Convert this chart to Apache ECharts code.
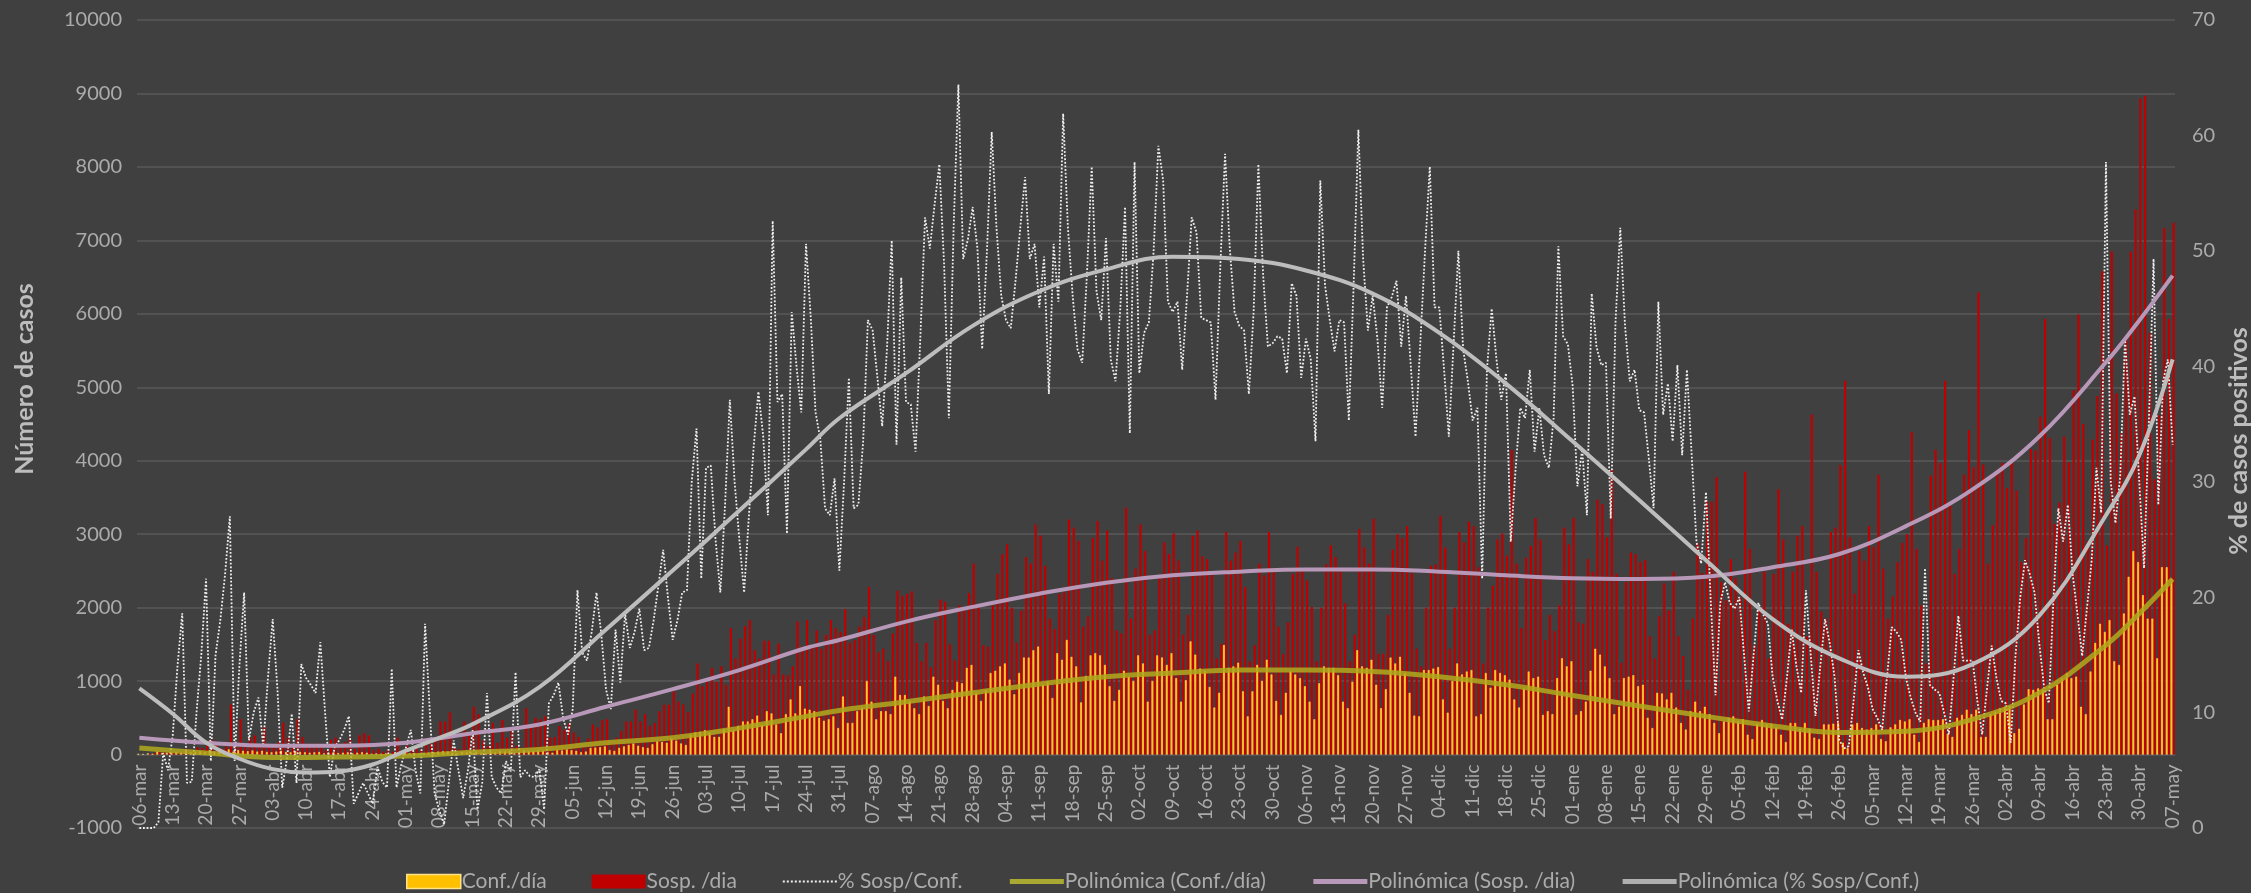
<!DOCTYPE html>
<html>
<head>
<meta charset="utf-8">
<script src="https://cdn.jsdelivr.net/npm/echarts@6/dist/echarts.min.js"></script>
<style>
html,body{margin:0;padding:0;background:#404040;}
#c{width:2251px;height:893px;}
</style>
</head>
<body>
<div id="c"></div>
<script>
// ---- categories: daily dates 06-mar-2020 .. 07-may-2021 ----
const monthNames = ['ene','feb','mar','abr','may','jun','jul','ago','sep','oct','nov','dic'];
const startDate = Date.UTC(2020, 2, 6);
const dayCount = 428;
const categories = [];
for (let i = 0; i < dayCount; i++) {
  const d = new Date(startDate + i * 86400000);
  categories.push(String(d.getUTCDate()).padStart(2, '0') + '-' + monthNames[d.getUTCMonth()]);
}

// ---- Conf./día (daily confirmed) ----
const confDia = [
  10,5,15,10,40,20,25,20,30,25, 40,30,35,45,30,60,40,30,45,70,
  40,60,50,45,55,40,50,35,30,40, 50,35,30,45,35,30,25,30,35,15,
  25,30,20,25,30,15,25,30,25,10, 15,10,15,10,25,15,20,15,20,10,
  20,25,30,40,45,40,15,10,35,30,
  30,40,20,15,40,30,45,40,50,20, 15,60,45,50,55,50,30,25,60,55,
  70,60,50,30,40,90,95,100,110,60, 50,90,110,130,150,120,100,90,140,180,
  170,160,220,190,150,130,270,300,310,330, 300,240,240,340,650,330,390,450,450,480,
  530,400,590,560,410,290,550,750,560,930, 625,
  610,590,500,460,480,520,360,790,430,430, 590,640,1000,720,480,590,590,550,1060,810,
  810,730,630,550,790,660,1060,950,730,630, 880,990,970,1180,1220,840,730,880,1110,1140,
  1200,1240,1020,820,1110,1320,1320,1420,1470,950, 990,770,1380,1290,1560,1330,1200,710,1070,1350,
  1380,1350,1220,930,730,880,1140,1060,1000,1350, 1240,
  720,1000,1350,1320,1220,1380,1040,720,1010,1540, 1360,1170,1140,920,640,840,1490,1180,1200,1250,
  860,520,860,1220,1000,1290,1090,730,540,840, 1130,1090,1040,930,720,480,970,1200,1180,1180,
  1080,720,630,990,1420,1200,1180,1290,950,630, 890,1320,1240,1330,1110,840,530,520,1150,1150,
  1170,1190,750,570,1000,1240,1090,1130,1150,520, 550,1110,
  910,1150,1110,1080,1020,750,640,900,1130,1040, 1060,540,590,550,1040,1310,1200,1270,540,590,
  720,1140,1440,1360,1200,1040,550,650,1040,1060, 1080,930,950,500,360,840,830,750,840,640,
  430,340,590,720,590,650,550,430,290,450, 500,520,450,480,270,210,420,470,410,420,
  370,270,170,430,430,350,430,350,230,210, 410,410,420,
  430,160,90,410,430,360,340,360,410,210, 180,370,410,470,450,480,270,170,430,480,
  470,470,480,280,240,500,540,610,550,610, 240,240,550,580,630,650,660,290,350,680,
  890,880,900,880,480,480,950,1040,1110,1040, 1060,650,550,1130,1520,1780,1670,1830,1270,1220,
  1920,2420,2770,2620,2170,1850,1850,1310,2550,2550, 2390
];

// ---- Sosp. /dia (daily suspected) ----
const sospDia = [
  0,0,10,20,60,40,30,50,40,60, 80,60,100,90,120,200,130,80,110,680,
  150,480,100,230,260,120,370,140,110,170, 430,230,130,480,240,150,120,150,130,60,
  200,230,90,170,230,80,260,290,260,60, 80,40,60,40,230,60,120,80,100,70,
  140,150,240,450,450,575,90,70,450,270,
  650,550,190,120,430,160,470,230,360,120, 90,630,370,500,480,520,230,240,390,340,
  430,300,240,120,220,410,370,470,480,190, 230,320,450,450,610,450,550,390,430,590,
  680,680,860,720,680,580,830,1240,930,990, 1180,990,1200,950,1720,1310,1580,1750,1830,1420,
  1310,1550,1550,1090,1510,1090,1080,1200,1810,1470, 1830,
  1490,1690,1440,1630,1830,1720,1670,1980,1520,1560, 1740,1870,2280,1630,1390,1440,1270,1650,2230,2160,
  2190,2220,1520,1270,1520,1190,1830,2110,2080,1500, 1280,2030,1960,2200,2600,2000,1490,1470,2030,2460,
  2730,2860,2000,1520,1960,2690,2600,3130,2980,2570, 1850,1710,2190,2210,3200,3090,2910,1740,1880,2950,
  3180,2640,3050,2400,1690,1650,3360,1850,2530,3130, 2770,
  1630,1690,2400,2890,2730,3010,2640,1630,1900,2980, 3050,2700,2660,2460,1310,1510,3030,2640,2750,2910,
  2280,1270,1490,2600,2440,3030,2490,1740,1370,1800, 2460,2830,2530,2370,2010,1270,2000,2590,2850,2690,
  2490,2060,1270,1630,3070,2820,2600,3210,1370,1370, 1900,2790,3000,2950,3110,2470,1440,1200,2000,2570,
  2590,3250,2820,1440,2000,3030,2890,3170,3110,2550, 1240,2000,
  2300,
  2930,3010,2710,4150,2600,1720,2680,2840,3220,2930, 1560,1900,1680,2030,3090,2860,3220,1800,1780,2660,
  2490,3470,3410,2960,3880,2460,1250,2350,2750,2730, 2620,2650,1610,1310,1880,2330,1960,2490,1610,1340,
  880,1850,2880,2470,3450,3440,3780,2350,2100,2660, 2400,2140,3850,2800,1490,1990,2490,1310,2460,3610,
  2930,1780,2490,2980,3110,1610,4630,2490,1950,1850, 3030,3090,
  3940,5090,2960,2190,2770,2640,3110,2830,3810,2530, 1850,2150,2620,2880,3000,4390,2800,2030,1240,3800,
  4150,3970,5090,3430,2460,2800,3810,4420,3910,6290, 3950,2600,3120,3880,3970,3630,4000,3590,2620,2950,
  4160,4140,4600,5930,4310,3140,3430,4330,3980,4960, 5990,4500,2910,4290,4880,6580,2850,6850,4920,4370,
  5680,6850,7420,8930,8970,5740,3750,4620,7170,5930, 7240
];

// ---- % Sosp/Conf. (right axis, %) ----
const pctSospConf = [
  0,0,0,0,0.5,6.5,5,8,14,18.6, 3.9,4,10,15,21.6,5.8,15,18,22,27,
  5.8,14,20.4,7.6,10,11.3,7.1,13,18.1,12, 3.5,6,9.9,3.9,14.2,13,12.4,11.7,16.1,10,
  4.4,7,7.6,8.5,9.7,2.1,3,3.9,3,2.1, 5.3,4,3.5,13.8,3.5,5.5,7,8.5,5,3,
  17.7,10,3,1.5,0.3,4,7.6,5,2.6,5, 8.5,
  1.6,3.9,11.7,4.4,3.5,3.0,5.8,4.9,13.5,4.4, 5,4.5,4.4,5.1,1.6,10.8,11.5,12.6,9.5,8.1,
  10.3,20.6,15.2,14.5,17,20.4,16.8,12,10.3,17.2, 12.6,18.6,15.6,17,19.0,15.4,15.6,18,21,24.1,
  20,16.3,18,20.4,20.6,30,34.6,21.6,31.2,31.4, 25,20.4,28,37.1,30,25,20.4,27,33,37.8,
  34,27.1,52.6,36.9,37.6,25.5,44.7,40,36.0,50.6,
  44.2,36.0,33.7,27.7,27.1,30.3,22.3,30,39,27.7, 28.0,33.5,44.0,43.1,39,34.8,41.5,50.9,33.2,47.7,
  36.9,36.7,32.6,42.4,52.9,50.2,54,57.5,48.8,35.5, 52.0,64.4,49.3,51,53.8,50.2,41.5,50,60.3,52,
  46.1,44,43.3,47.4,52,56.4,49.3,50.6,45.1,49.5, 37.6,50.6,45.6,61.9,52,46.1,41.5,40.3,48,57.3,
  46.5,44.0,51.1,40.6,38.7,45,53.8,34.2,57.7,39.4, 42.9,43.8,
  50,59.1,56.1,45.6,44.7,45.6,39.7,46,52.9,51.6, 44.2,44,43.8,37.1,48.6,58.4,50.2,44.7,43.5,43.1,
  37.6,44.7,57.5,47.9,41.7,42,42.6,42.4,39.4,47.2, 46.1,39.0,42.4,40.6,33.5,56.1,47.0,44,41.3,44.0,
  43.8,35.3,47.0,60.5,49.3,43.1,46.1,42.4,36.4,45.1, 46,47.4,41.7,46.1,40.1,33.9,42,50,57.3,45.1,
  45.1,39.7,33.9,42,50.0,41.5,38.7,35.3,36.4,21.6, 39.7,45,
  40.6,37.1,39.4,24.8,31.0,36.4,35.5,39.7,32.6,36.4, 32.3,31.2,35.5,50.4,42.6,41.9,38.3,29.6,32.8,27.1,
  46.3,41.7,40.1,40.3,26.8,43.8,52.0,43.5,38.7,39.7, 36.2,36.0,32,27.7,45.6,35.8,38.5,33.5,40.1,32.3,
  39.7,32.3,24.8,22.9,29.1,19.7,11.5,19.5,21.3,19.5, 19.0,20.0,15,10.1,15,19.5,18.5,17.7,13.1,11,
  9.4,13,17.2,14,11.7,20.6,15,9.7,14,18.1, 16,13.1,
  7.6,6.9,7.1,11,15.4,13.5,12.2,10.3,9.5,8.5, 13,17.4,17,16.3,13,11.3,10,9.2,22.5,12.4,
  12,11.7,10,8.1,13,18.4,14.5,14.5,14.5,11, 8.1,12,15.8,13,11,10.8,7.4,14.9,20,23.2,
  22,20.4,16,12.2,10.8,20,27.7,24.8,28.0,22, 18.6,14.9,19,23.2,31.2,27.3,57.7,30,26.4,30.5,
  42.4,35.8,37.4,30,22.5,35,49.3,28.0,38.7,40.6, 33.2
];

// ---- Polynomial trend lines: [day index, value] ----
const trendConf = [[0,90],[14,20],[28,-40],[42,-35],[56,-20],[70,30],[84,70],[98,160],[112,230],[126,360],[140,520],[147,600],[161,720],[175,840],[189,960],[203,1060],[217,1110],[231,1150],[245,1150],[259,1130],[273,1060],[287,950],[301,805],[315,660],[329,520],[343,390],[357,300],[371,316],[385,480],[399,840],[413,1490],[420,1920],[427,2390]];
const trendSosp = [[0,230],[14,160],[28,120],[42,120],[56,160],[70,290],[84,410],[98,650],[112,890],[126,1150],[140,1450],[147,1560],[161,1810],[175,2010],[189,2190],[203,2340],[217,2440],[231,2490],[245,2520],[259,2520],[273,2490],[287,2440],[301,2400],[315,2390],[329,2420],[343,2550],[357,2730],[371,3110],[385,3610],[399,4330],[413,5340],[420,5910],[427,6520]];
const trendPct = [[0,12.1],[7,9.9],[14,7.4],[21,6.0],[28,5.1],[35,4.8],[42,4.9],[49,5.5],[56,6.7],[63,7.8],[70,9.0],[84,12.2],[98,17.2],[112,22.3],[126,27.5],[140,32.8],[147,35.5],[161,39.4],[175,43.5],[189,46.5],[203,48.4],[217,49.5],[231,49.3],[245,48.3],[259,46.3],[273,42.9],[287,38.5],[301,33.5],[315,28.4],[329,23.2],[343,18.1],[357,14.7],[371,13.1],[385,14.2],[399,18.4],[413,27.1],[420,32.3],[427,40.6]];

const leftTicks = {min: -1000, max: 10000, interval: 1000};
const rightTicks = {min: 0, max: 70, interval: 10};

const FONT = 'Lato, "Noto Sans", sans-serif';
const TXT = '#ababab';
const GRIDC = '#595959';
const C_CONF = '#FFC000', C_SOSP = '#C00000', C_DOT = '#f0f0f0';
const C_TCONF = 'rgba(175,170,30,0.85)', C_TSOSP = '#B898B8', C_TPCT = '#BDBDBD';
const GRID_TOP = 20, GRID_BOTTOM = 65, H = 893;
const plotH = H - GRID_TOP - GRID_BOTTOM;
const zeroOffset = -plotH * (0 - leftTicks.min) / (leftTicks.max - leftTicks.min);

const lineLegend = (name, ls) => ({name: name, itemStyle: {opacity: 0}, lineStyle: ls});

const chart = echarts.init(document.getElementById('c'));
chart.setOption({
  animation: false,
  backgroundColor: '#404040',
  textStyle: {fontFamily: FONT},
  grid: {left: 137, right: 76, top: GRID_TOP, bottom: GRID_BOTTOM, containLabel: false, outerBoundsMode: 'none'},
  legend: {
    left: 401, top: 866,
    itemWidth: 54, itemHeight: 14, itemGap: 45,
    textStyle: {color: TXT, fontSize: 21, fontFamily: FONT, padding: [0,0,0,-4]},
    data: [
      {name: 'Conf./día', icon: 'rect', itemStyle: {color: C_CONF, borderColor: '#FFE38A', borderWidth: 1.5}},
      {name: 'Sosp. /dia', icon: 'rect'},
      lineLegend('% Sosp/Conf.', {color: C_DOT, width: 2, type: [2, 2]}),
      lineLegend('Polinómica (Conf./día)', {color: '#A8A832', width: 5}),
      lineLegend('Polinómica (Sosp. /dia)', {color: C_TSOSP, width: 5}),
      lineLegend('Polinómica (% Sosp/Conf.)', {color: '#AFAFAF', width: 5})
    ]
  },
  xAxis: {
    type: 'category',
    data: categories,
    boundaryGap: true,
    position: 'bottom',
    offset: zeroOffset,
    axisLine: {show: true, onZero: false, lineStyle: {color: GRIDC, width: 1}},
    axisTick: {show: false},
    axisLabel: {interval: 6, rotate: 90, color: TXT, fontSize: 19, fontFamily: FONT, margin: 10, hideOverlap: false}
  },
  yAxis: [
    {
      type: 'value', min: leftTicks.min, max: leftTicks.max, interval: leftTicks.interval,
      axisLine: {show: false}, axisTick: {show: false},
      splitLine: {lineStyle: {color: GRIDC, width: 1.5}},
      axisLabel: {color: TXT, fontSize: 20, fontFamily: FONT, margin: 15, formatter: v => String(v)},
      name: 'Número de casos', nameLocation: 'middle', nameRotate: 90, nameGap: 100,
      nameTextStyle: {color: '#bdbdbd', fontSize: 25, fontWeight: 'bold', fontFamily: FONT, padding: [0, 0, 0, 90]}
    },
    {
      type: 'value', position: 'right', min: rightTicks.min, max: rightTicks.max, interval: rightTicks.interval,
      axisLine: {show: false}, axisTick: {show: false}, splitLine: {show: false},
      axisLabel: {color: TXT, fontSize: 20, fontFamily: FONT, margin: 17, formatter: v => String(v)},
      name: '% de casos positivos', nameLocation: 'middle', nameRotate: 90, nameGap: 44,
      nameTextStyle: {color: '#bdbdbd', fontSize: 25, fontWeight: 'bold', fontFamily: FONT, padding: [0, 34, 0, 0]}
    }
  ],
  series: [
    {name: 'Conf./día', type: 'bar', data: confDia, yAxisIndex: 0, barGap: '0%', barCategoryGap: '8%',
     itemStyle: {color: C_CONF, borderColor: '#FFDD77', borderWidth: 0.5}, z: 2},
    {name: 'Sosp. /dia', type: 'bar', data: sospDia, yAxisIndex: 0,
     itemStyle: {color: C_SOSP}, z: 2},
    {name: '% Sosp/Conf.', type: 'line', data: pctSospConf, yAxisIndex: 1, symbol: 'none',
     lineStyle: {color: C_DOT, width: 1.8, type: [1.8, 1.8]}, itemStyle: {color: C_DOT}, z: 3},
    {name: 'Polinómica (Conf./día)', type: 'line', data: trendConf, yAxisIndex: 0, symbol: 'none', smooth: 0.4,
     lineStyle: {color: C_TCONF, width: 5}, itemStyle: {color: '#A8A832'}, z: 4},
    {name: 'Polinómica (Sosp. /dia)', type: 'line', data: trendSosp, yAxisIndex: 0, symbol: 'none', smooth: 0.4,
     lineStyle: {color: C_TSOSP, width: 4}, itemStyle: {color: C_TSOSP}, z: 4},
    {name: 'Polinómica (% Sosp/Conf.)', type: 'line', data: trendPct, yAxisIndex: 1, symbol: 'none', smooth: 0.4,
     lineStyle: {color: C_TPCT, width: 4}, itemStyle: {color: C_TPCT}, z: 4}
  ]
});
</script>
</body>
</html>
